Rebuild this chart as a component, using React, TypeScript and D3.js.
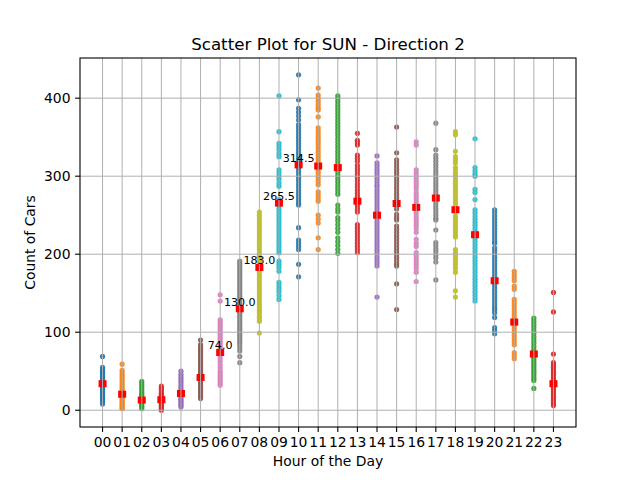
import React from "react";
import * as d3 from "d3";

const hourLabels = ["00","01","02","03","04","05","06","07","08","09","10","11","12","13","14","15","16","17","18","19","20","21","22","23"];

const h00 = [69, 55, 52, 50, 48, 46, 44, 42, 40, 38, 36, 35, 34, 33, 31, 29, 27, 25, 23, 21, 19, 17, 15, 13, 11, 8];
const h01 = [59, 51, 48, 45, 42, 39, 36, 33, 30, 27, 25, 23, 21, 20, 19, 17, 15, 13, 11, 9, 7, 5, 3, 2];
const h02 = [37, 34, 31, 28, 25, 22, 20, 18, 16, 14, 13, 12, 11, 10, 8, 6, 4, 2];
const h03 = [31, 28, 25, 22, 20, 18, 16, 15, 14, 13, 12, 11, 10, 8, 6, 4, 2, 0];
const h04 = [50, 46, 43, 40, 37, 34, 31, 28, 25, 23, 22, 21, 20, 18, 16, 14, 12, 10, 8, 6, 4];
const h05 = [90, 84, 81, 78, 75, 72, 69, 66, 63, 60, 57, 54, 51, 48, 46, 44, 43, 42, 41, 39, 36, 33, 30, 27, 24, 21, 18, 15];
const h06 = [148, 140, 116, 113, 110, 107, 104, 101, 98, 95, 92, 89, 86, 83, 80, 77, 75, 74, 73, 70, 66, 62, 58, 54, 50, 47, 44, 41, 38, 35, 32];
const h07 = [191, 188, 185, 182, 179, 176, 173, 170, 167, 164, 161, 158, 155, 152, 149, 146, 143, 140, 137, 134, 131, 130, 129, 126, 123, 120, 117, 114, 111, 108, 105, 102, 99, 96, 93, 90, 87, 84, 80, 76, 69, 61];
const h08 = [254, 250, 246, 242, 238, 234, 230, 226, 222, 218, 214, 210, 206, 202, 198, 194, 190, 186, 183, 180, 176, 172, 168, 164, 160, 156, 152, 148, 144, 140, 136, 132, 128, 125, 121, 118, 114, 99];
const h09 = [403, 357, 342, 338, 334, 329, 325, 308, 304, 300, 296, 291, 287, 270, 267, 265, 262, 258, 254, 250, 246, 242, 238, 234, 230, 226, 222, 218, 214, 210, 206, 202, 191, 187, 183, 178, 164, 160, 156, 152, 147, 142];
const h10 = [430, 398, 387, 382, 377, 372, 366, 362, 358, 354, 350, 346, 342, 338, 334, 330, 326, 322, 318, 315, 314, 310, 306, 302, 298, 294, 290, 286, 282, 278, 274, 270, 266, 263, 234, 218, 214, 210, 206, 187, 171];
const h11 = [413, 404, 400, 396, 392, 388, 385, 376, 362, 358, 354, 350, 346, 342, 338, 334, 330, 326, 322, 318, 314, 312, 309, 305, 301, 297, 293, 289, 280, 276, 272, 268, 250, 245, 240, 221, 206];
const h12 = [403, 400, 396, 392, 388, 384, 380, 376, 372, 368, 364, 360, 356, 352, 348, 344, 340, 336, 332, 328, 324, 320, 316, 312, 311, 309, 305, 301, 297, 293, 289, 285, 281, 277, 263, 258, 254, 247, 243, 238, 233, 228, 221, 216, 211, 206, 201];
const h13 = [355, 346, 343, 340, 327, 323, 319, 314, 310, 306, 302, 298, 294, 290, 286, 282, 278, 274, 270, 268, 266, 262, 258, 254, 238, 234, 230, 226, 222, 218, 214, 210, 206, 202];
const h14 = [326, 317, 313, 309, 305, 301, 297, 293, 289, 286, 282, 278, 274, 270, 266, 262, 258, 254, 251, 249, 245, 241, 237, 233, 229, 225, 221, 217, 213, 209, 205, 201, 197, 193, 189, 185, 145];
const h15 = [363, 330, 321, 317, 313, 309, 305, 301, 297, 293, 289, 285, 281, 277, 273, 269, 265, 262, 258, 251, 247, 244, 236, 232, 228, 224, 220, 216, 212, 208, 204, 200, 196, 192, 188, 185, 162, 129];
const h16 = [344, 340, 308, 304, 300, 296, 292, 288, 284, 279, 275, 271, 267, 262, 260, 258, 253, 249, 245, 241, 237, 233, 228, 219, 214, 210, 202, 198, 194, 190, 186, 182, 177, 165];
const h17 = [368, 334, 327, 323, 319, 315, 311, 307, 303, 299, 295, 291, 287, 283, 279, 275, 272, 270, 266, 262, 258, 254, 250, 246, 244, 231, 215, 211, 207, 203, 199, 195, 190, 167];
const h18 = [357, 353, 332, 325, 321, 317, 311, 307, 303, 299, 295, 291, 287, 283, 279, 275, 271, 267, 263, 259, 257, 255, 249, 245, 241, 237, 233, 229, 225, 222, 206, 202, 198, 194, 190, 186, 182, 177, 153, 145];
const h19 = [348, 311, 307, 303, 300, 283, 279, 270, 257, 253, 249, 245, 241, 237, 233, 229, 226, 225, 224, 220, 216, 212, 208, 204, 200, 196, 192, 188, 184, 180, 176, 172, 168, 164, 160, 156, 152, 148, 144, 140];
const h20 = [257, 253, 249, 245, 241, 237, 233, 229, 225, 221, 217, 214, 208, 204, 200, 196, 192, 188, 184, 180, 176, 172, 168, 166, 164, 160, 156, 152, 148, 144, 140, 136, 132, 129, 125, 119, 106, 102, 98];
const h21 = [178, 174, 170, 166, 159, 155, 142, 138, 134, 130, 126, 122, 118, 115, 113, 111, 108, 104, 100, 96, 92, 88, 84, 74, 70, 66];
const h22 = [118, 114, 110, 106, 102, 98, 94, 90, 86, 82, 78, 75, 73, 72, 71, 68, 65, 62, 59, 56, 53, 50, 47, 44, 41, 38, 28];
const h23 = [151, 126, 72, 61, 58, 55, 52, 49, 46, 43, 40, 37, 35, 34, 33, 30, 27, 24, 21, 18, 15, 12, 9, 6];

const hourValues = [h00, h01, h02, h03, h04, h05, h06, h07, h08, h09, h10, h11, h12, h13, h14, h15, h16, h17, h18, h19, h20, h21, h22, h23];

const medians = [34, 20.5, 13, 13.5, 21.5, 42, 74, 130, 183, 265.5, 314.5, 313, 311, 268, 250, 265, 260, 272, 257, 225, 166, 113, 72, 34];
const annotatedHours = [6, 7, 8, 9, 10];
const yTicks = [0, 100, 200, 300, 400];

const palette = ["#1f77b4", "#ff7f0e", "#2ca02c", "#d62728", "#9467bd", "#8c564b", "#e377c2", "#7f7f7f", "#bcbd22", "#17becf"];

const W = 640, H = 480;
const L = 80, R = 576, T = 58, B = 427;
const FONT = "DejaVu Sans, sans-serif";

export default function App() {
  const x = d3.scaleLinear().domain([-1.15, 24.15]).range([L, R]);
  const y = d3.scaleLinear().domain([-21.5, 451.5]).range([B, T]);
  const grid = "#b0b0b0";
  return (
    <svg width={W} height={H} style={{ position: "absolute", left: 0, top: 0, background: "#fff" }} fontFamily={FONT}>
      <rect x={0} y={0} width={W} height={H} fill="#fff" />
      <g>
        {hourValues.map((vals, i) =>
          vals.map((v, j) => (
            <circle key={`p${i}-${j}`} cx={x(i)} cy={y(v)} r={2.6} fill={palette[i % 10]} fillOpacity={0.9} />
          ))
        )}
        {medians.map((m, i) => (
          <rect key={`m${i}`} x={x(i) - 4} y={y(m) - 3.5} width={8} height={7} fill="#ff0000" />
        ))}
      </g>
      <g stroke={grid} strokeWidth={1}>
        {hourLabels.map((_, i) => (
          <line key={`gx${i}`} x1={x(i)} x2={x(i)} y1={T} y2={B} />
        ))}
        {yTicks.map((t) => (
          <line key={`gy${t}`} x1={L} x2={R} y1={y(t)} y2={y(t)} />
        ))}
      </g>
      {annotatedHours.map((h) => (
        <text key={`a${h}`} x={x(h)} y={y(medians[h]) - 3} fontSize={11.1} textAnchor="middle" fill="#000">
          {medians[h].toFixed(1)}
        </text>
      ))}
      <rect x={L} y={T} width={R - L} height={B - T} fill="none" stroke="#000" strokeWidth={1.1} />
      <g stroke="#000" strokeWidth={1.1}>
        {hourLabels.map((_, i) => (
          <line key={`tx${i}`} x1={x(i)} x2={x(i)} y1={B} y2={B + 4.9} />
        ))}
        {yTicks.map((t) => (
          <line key={`ty${t}`} x1={L - 4.9} x2={L} y1={y(t)} y2={y(t)} />
        ))}
      </g>
      <g fontSize={13.9} fill="#000">
        {hourLabels.map((lab, i) => (
          <text key={`lx${i}`} x={x(i)} y={446.5} textAnchor="middle">{lab}</text>
        ))}
        {yTicks.map((t) => (
          <text key={`ly${t}`} x={70.5} y={y(t)} dy="0.36em" textAnchor="end">{t}</text>
        ))}
      </g>
      <text x={(L + R) / 2} y={466} fontSize={13.9} textAnchor="middle">Hour of the Day</text>
      <text transform={`translate(35,${(T + B) / 2}) rotate(-90)`} fontSize={13.9} textAnchor="middle">Count of Cars</text>
      <text x={(L + R) / 2} y={49.5} fontSize={16.7} textAnchor="middle">Scatter Plot for SUN - Direction 2</text>
    </svg>
  );
}
